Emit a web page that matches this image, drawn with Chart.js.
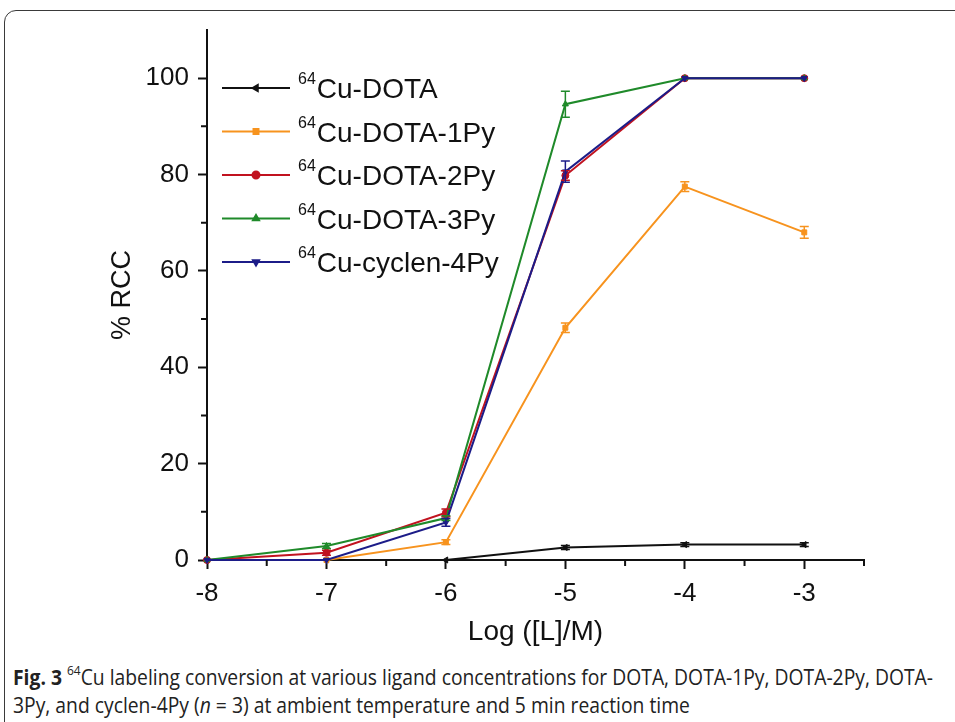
<!DOCTYPE html>
<html>
<head>
<meta charset="utf-8">
<script src="https://cdn.jsdelivr.net/npm/chart.js@4.4.1/dist/chart.umd.min.js"></script>
<style>
  html, body {
    margin: 0;
    padding: 0;
    background: #fff;
    width: 955px;
    height: 722px;
    overflow: hidden;
  }
  .frame {
    position: absolute;
    left: 4px;
    top: 10px;
    width: 1000px;
    height: 760px;
    border: 1.5px solid #3a3a3a;
    border-radius: 12px;
    box-sizing: border-box;
  }
  #chart {
    position: absolute;
    left: 0;
    top: 0;
  }
  .caption {
    position: absolute;
    left: 13px;
    top: 658px;
    font-family: 'Open Sans', sans-serif;
    font-size: 21px;
    line-height: 28px;
    color: #222;
    white-space: nowrap;
    transform-origin: 0 0;
  }
  .caption sup {
    font-size: 13px;
    position: relative;
    top: -2px;
  }
</style>
</head>
<body>
<div class="frame"></div>
<canvas id="chart" width="955" height="650"></canvas>
<div class="caption" id="caption">
  <div id="capLine"><b>Fig. 3</b> <sup>64</sup>Cu labeling conversion at various ligand concentrations for DOTA, DOTA-1Py, DOTA-2Py, DOTA-</div>
  <div>3Py, and cyclen-4Py (<i>n</i> = 3) at ambient temperature and 5 min reaction time</div>
</div>
<script>
// Log([L]/M) values
const xValues = [-8, -7, -6, -5, -4, -3];

const isotope = '64';
const seriesNames = ['Cu-DOTA', 'Cu-DOTA-1Py', 'Cu-DOTA-2Py', 'Cu-DOTA-3Py', 'Cu-cyclen-4Py'];

// % RCC
const dota = [0, 0, 0, 2.6, 3.2, 3.2];
const dota1Py = [0, 0, 3.7, 48.2, 77.5, 68.0];
const dota2Py = [0, 1.5, 9.8, 79.8, 100, 100];
const dota3Py = [0, 2.9, 8.7, 94.6, 100, 100];
const cyclen4Py = [0, 0, 7.8, 80.6, 100, 100];

// standard deviations (n = 3)
const dotaErr = [0, 0, 0, 0.4, 0.4, 0.4];
const dota1PyErr = [0, 0, 0.5, 1.0, 1.0, 1.2];
const dota2PyErr = [0, 0.5, 0.8, 1.0, 0, 0];
const dota3PyErr = [0, 0.5, 0.5, 2.7, 0, 0];
const cyclen4PyErr = [0, 0, 0.8, 2.2, 0, 0];

// axis ticks
const xMajorTicks = [-8, -7, -6, -5, -4, -3];
const xMinorTicks = [-7.5, -6.5, -5.5, -4.5, -3.5, -2.5];
const yMajorTicks = [0, 20, 40, 60, 80, 100];
const yMinorTicks = [10, 30, 50, 70, 90];

const seriesValues = [dota, dota1Py, dota2Py, dota3Py, cyclen4Py];
const seriesErrors = [dotaErr, dota1PyErr, dota2PyErr, dota3PyErr, cyclen4PyErr];

const colors = ['#111111', '#f7931e', '#c1121f', '#1f8a2a', '#1c1c88'];
const pointStyles = ['triangle', 'rect', 'circle', 'triangle', 'triangle'];
const rotations = [-90, 0, 0, 0, 180];
const drawOrder = [5, 4, 3, 2, 1];

const axisFont = '"Liberation Sans", Arial, sans-serif';

const datasets = seriesNames.map((name, i) => ({
  label: isotope + name,
  data: xValues.map((x, j) => ({ x: x, y: seriesValues[i][j] })),
  errors: seriesErrors[i],
  borderColor: colors[i],
  backgroundColor: colors[i],
  borderWidth: 2,
  pointStyle: pointStyles[i],
  pointRotation: rotations[i],
  pointRadius: 3.5,
  pointBorderWidth: 1,
  tension: 0,
  clip: false,
  order: drawOrder[i]
}));

// Error bars drawn through the scales
const errorBars = {
  id: 'errorBars',
  afterDatasetsDraw(chart) {
    const { ctx, scales: { x, y } } = chart;
    ctx.save();
    ctx.lineWidth = 1.5;
    chart.data.datasets.forEach(ds => {
      ctx.strokeStyle = ds.borderColor;
      ds.data.forEach((pt, j) => {
        const err = ds.errors[j];
        if (!err) return;
        const px = x.getPixelForValue(pt.x);
        const top = y.getPixelForValue(pt.y + err);
        const bot = y.getPixelForValue(pt.y - err);
        ctx.beginPath();
        ctx.moveTo(px, top);
        ctx.lineTo(px, bot);
        ctx.moveTo(px - 4.5, top);
        ctx.lineTo(px + 4.5, top);
        ctx.moveTo(px - 4.5, bot);
        ctx.lineTo(px + 4.5, bot);
        ctx.stroke();
      });
    });
    ctx.restore();
  }
};

// Minor ticks
const minorTicks = {
  id: 'minorTicks',
  afterDraw(chart) {
    const { ctx, scales: { x, y } } = chart;
    ctx.save();
    ctx.strokeStyle = '#111';
    ctx.lineWidth = 2;
    ctx.beginPath();
    xMinorTicks.forEach(v => {
      const px = x.getPixelForValue(v);
      ctx.moveTo(px, y.bottom);
      ctx.lineTo(px, y.bottom + 6);
    });
    yMinorTicks.forEach(v => {
      const py = y.getPixelForValue(v);
      ctx.moveTo(x.left, py);
      ctx.lineTo(x.left - 6, py);
    });
    ctx.stroke();
    ctx.restore();
  }
};

// Legend inside the plot, with superscript mass number
const legendBox = {
  id: 'legendBox',
  afterDraw(chart) {
    const ctx = chart.ctx;
    const x0 = 222, x1 = 290, rowTop = 88, rowGap = 43.5;
    ctx.save();
    chart.data.datasets.forEach((ds, i) => {
      const ry = rowTop + i * rowGap;
      ctx.strokeStyle = ds.borderColor;
      ctx.fillStyle = ds.backgroundColor;
      ctx.lineWidth = 2;
      ctx.beginPath();
      ctx.moveTo(x0, ry);
      ctx.lineTo(x1, ry);
      ctx.stroke();
      Chart.helpers.drawPoint(ctx, {
        pointStyle: ds.pointStyle,
        rotation: ds.pointRotation,
        radius: 3.5,
        borderWidth: 1
      }, (x0 + x1) / 2, ry);

      ctx.fillStyle = '#111';
      ctx.textBaseline = 'alphabetic';
      ctx.textAlign = 'left';
      ctx.font = '16px ' + axisFont;
      ctx.fillText(isotope, 298, ry - 4);
      const supW = ctx.measureText(isotope).width;
      ctx.font = '28px ' + axisFont;
      ctx.fillText(seriesNames[i], 298 + supW + 1, ry + 10);
    });
    ctx.restore();
  }
};

new Chart(document.getElementById('chart'), {
  type: 'line',
  data: { datasets: datasets },
  options: {
    responsive: false,
    animation: false,
    devicePixelRatio: 1,
    layout: {
      padding: { left: 0, top: 30, right: 91, bottom: 0 }
    },
    plugins: {
      legend: { display: false },
      tooltip: { enabled: false }
    },
    scales: {
      x: {
        type: 'linear',
        min: -8,
        max: -2.5,
        afterFit(scale) { scale.height = 90; },
        afterBuildTicks(scale) { scale.ticks = xMajorTicks.map(v => ({ value: v })); },
        ticks: {
          color: '#111',
          padding: 9,
          font: { family: axisFont, size: 26 }
        },
        grid: {
          drawOnChartArea: false,
          drawTicks: true,
          tickLength: 9,
          tickWidth: 2,
          tickColor: '#111'
        },
        border: { display: true, color: '#111', width: 2 },
        title: {
          display: true,
          text: 'Log ([L]/M)',
          color: '#111',
          font: { family: axisFont, size: 28 },
          padding: { top: 0, bottom: 1 }
        }
      },
      y: {
        min: 0,
        max: 110,
        afterFit(scale) { scale.width = 207; },
        afterBuildTicks(scale) { scale.ticks = yMajorTicks.map(v => ({ value: v })); },
        ticks: {
          color: '#111',
          padding: 9,
          font: { family: axisFont, size: 26 }
        },
        grid: {
          drawOnChartArea: false,
          drawTicks: true,
          tickLength: 9,
          tickWidth: 2,
          tickColor: '#111'
        },
        border: { display: true, color: '#111', width: 2 },
        title: {
          display: true,
          text: '% RCC',
          color: '#111',
          font: { family: axisFont, size: 27 },
          padding: { top: 106, bottom: 0 }
        }
      }
    }
  },
  plugins: [errorBars, minorTicks, legendBox]
});

// squeeze the caption to the condensed width of the original
const cap = document.getElementById('caption');
const w = document.getElementById('capLine').getBoundingClientRect().width;
cap.style.transform = 'scaleX(' + (920 / w) + ')';
</script>
</body>
</html>
